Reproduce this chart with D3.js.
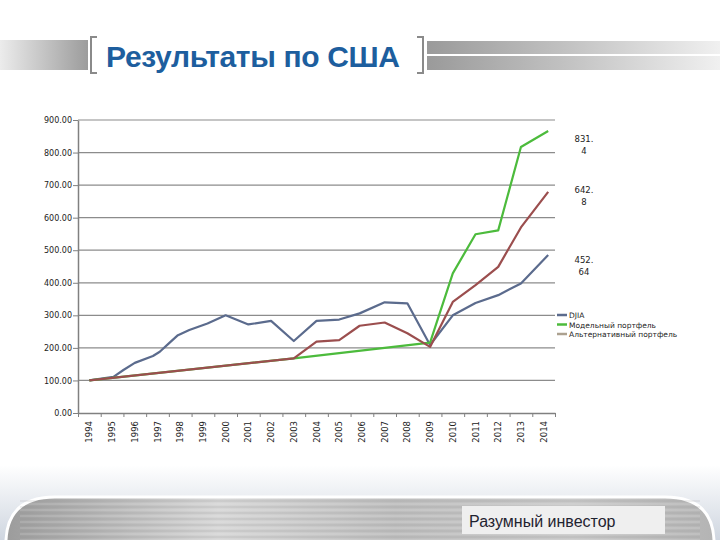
<!DOCTYPE html>
<html><head><meta charset="utf-8">
<script src="https://cdn.jsdelivr.net/npm/d3@7"></script>
<style>html,body{margin:0;padding:0;background:#fff;}svg{display:block;}</style>
</head><body>
<script>
// ---- data ----
const categories = [1994,1995,1996,1997,1998,1999,2000,2001,2002,2003,2004,2005,2006,2007,2008,2009,2010,2011,2012,2013,2014];
const yTicks = [0,100,200,300,400,500,600,700,800,900];
const djiaT = [1994,1995.06,1995.5,1996,1996.8,1997.1,1997.5,1997.9,1998.4,1999.2,2000,2001,2002,2003,2004,2005,2005.9,2007,2008,2009,2010,2011,2012,2013,2014.2];
const djiaV = [100,111,132,154,175,188,214,239,255,275,300,272,283,221,283,287,306,340,337,209,300,338,362,398,485];
const modelT = [1994,2003,2009,2010,2011,2012,2013,2014.2];
const modelV = [100,168,216,429,549,561,817,866];
const altT = [1994,2003,2004,2005,2005.9,2007,2008,2009,2010,2011,2012,2013,2014.2];
const altV = [100,168,219,224,268,278,245,203,341,393,449,570,679];
const seriesNames = ["DJIA","Модельный портфель","Альтернативный портфель"];
const endLabels = [["831.","4"],["642.","8"],["452.","64"]];
const endValues = [866,679,485];
const titleText = "Результаты по США";
const footerText = "Разумный инвестор";

// layout-only offsets for the end labels (pixels below the line end)
const endLabelDy = [11, 1.5, 8];

const W=720,H=540;
const svg=d3.select("body").append("svg").attr("width",W).attr("height",H);
const defs=svg.append("defs");
function lg(id,stops,vertical){const g=defs.append("linearGradient").attr("id",id).attr("x1",0).attr("y1",0).attr("x2",vertical?0:1).attr("y2",vertical?1:0);stops.forEach(s=>g.append("stop").attr("offset",s[0]).attr("stop-color",s[1]));}
lg("gl",[[0,"#ececec"],[1,"#9c9c9c"]]);
lg("gr",[[0,"#9a9a9a"],[0.5,"#c4c4c4"],[1,"#f0f0f0"]]);
lg("shadow",[[0,"#ffffff"],[1,"#cfd6e0"]],true);
lg("metal",[[0,"#9c9c9c"],[0.3,"#d6d6d6"],[0.55,"#bdbdbd"],[0.8,"#c9c9c9"],[1,"#b4b4b4"]]);

// ---- header ----
svg.append("rect").attr("x",0).attr("y",40).attr("width",88).attr("height",30).attr("fill","url(#gl)");
svg.append("rect").attr("x",427).attr("y",41).attr("width",293).attr("height",13).attr("fill","url(#gr)");
svg.append("rect").attr("x",427).attr("y",56).attr("width",293).attr("height",14).attr("fill","url(#gr)");
svg.append("path").attr("d","M97,37 L91,37 L91,73 L97,73").attr("fill","none").attr("stroke","#8a8a8a").attr("stroke-width",2);
svg.append("path").attr("d","M417,37 L423,37 L423,73 L417,73").attr("fill","none").attr("stroke","#8a8a8a").attr("stroke-width",2);
svg.append("text").attr("x",106).attr("y",67).attr("font-family","Liberation Sans, Arial, sans-serif").attr("font-weight","bold").attr("font-size",30).attr("textLength",294).attr("fill","#1d5e9e").text(titleText);

// ---- footer ----
svg.append("rect").attr("x",0).attr("y",465).attr("width",W).attr("height",75).attr("fill","url(#shadow)");
svg.append("path").attr("d","M6,545 L6,540 Q8,497 55,497 L665,497 Q712,497 714,540 L714,545 Z").attr("fill","url(#metal)").attr("stroke","#ffffff").attr("stroke-width",3);
const stripes=svg.append("g").attr("opacity",0.25);
for(let i=0;i<14;i++){stripes.append("line").attr("x1",20).attr("x2",700).attr("y1",501+i*3).attr("y2",501+i*3).attr("stroke",i%2?"#ffffff":"#8a8a8a").attr("stroke-width",1);}
svg.append("rect").attr("x",462).attr("y",506).attr("width",203).attr("height",28).attr("fill","#efefef");
svg.append("text").attr("x",469).attr("y",527).attr("font-family","Liberation Sans, Arial, sans-serif").attr("font-size",16).attr("fill","#1f2330").text(footerText);

// ---- chart ----
const x=d3.scaleLinear().domain([1993.5,2014.5]).range([78,555]);
const y=d3.scaleLinear().domain([0,900]).range([413,120]);
const g=svg.append("g");
g.selectAll("line.grid").data(yTicks.filter(d=>d>0)).enter().append("line")
 .attr("x1",78).attr("x2",555).attr("y1",d=>y(d)).attr("y2",d=>y(d)).attr("stroke","#8c8c8c").attr("stroke-width",1.2);
const yAxis=d3.axisLeft(y).tickValues(yTicks).tickFormat(d3.format(".2f")).tickSize(5).tickSizeOuter(0);
const ya=g.append("g").attr("transform","translate(78,0)").call(yAxis);
ya.select(".domain").attr("stroke","#808080").attr("stroke-width",1.5);
ya.selectAll(".tick line").attr("stroke","#808080");
ya.selectAll("text").attr("font-family","DejaVu Sans, sans-serif").attr("font-size",8).attr("fill","#222").attr("x",-6);
const bounds=d3.range(1993.5,2015,1);
const xAxis=d3.axisBottom(x).tickValues(bounds).tickFormat("").tickSize(4).tickSizeOuter(0);
const xa=g.append("g").attr("transform","translate(0,413)").call(xAxis);
xa.select(".domain").attr("stroke","#808080").attr("stroke-width",1.5);
xa.selectAll(".tick line").attr("stroke","#808080");
g.selectAll("text.xl").data(categories).enter().append("text")
 .attr("transform",d=>`translate(${x(d)+3},421) rotate(-90)`).attr("text-anchor","end")
 .attr("font-family","DejaVu Sans, sans-serif").attr("font-size",8.5).attr("fill","#222").text(d=>d);

const line=d3.line().x(d=>x(d[0])).y(d=>y(d[1]));
const colors=["#5b6b8d","#4cbb3c","#9b4e4e"];
const legendColors=["#5b6b8d","#4cbb3c","#aca190"];
const djia=djiaT.map((t,i)=>[t,djiaV[i]]);
const model=modelT.map((t,i)=>[t,modelV[i]]);
const alt=altT.map((t,i)=>[t,altV[i]]);
[[djia,0],[model,1],[alt,2]].forEach(([d,i])=>{
 g.append("path").datum(d).attr("d",line).attr("fill","none").attr("stroke",colors[i]).attr("stroke-width",2.2).attr("stroke-linejoin","round");
});
// end labels
endLabels.forEach((l,k)=>{
 const v=endValues[k];
 const t=g.append("text").attr("font-family","DejaVu Sans, sans-serif").attr("font-size",8.5).attr("fill","#222").attr("text-anchor","middle");
 t.append("tspan").attr("x",584).attr("y",y(v)+endLabelDy[k]).text(l[0]);
 t.append("tspan").attr("x",584).attr("dy",11.5).text(l[1]);
});
// legend
seriesNames.forEach((n,i)=>{
 const yy=315+i*9.5;
 g.append("line").attr("x1",557).attr("x2",567).attr("y1",yy).attr("y2",yy).attr("stroke",legendColors[i]).attr("stroke-width",2.5);
 g.append("text").attr("x",569).attr("y",yy+3).attr("font-family","DejaVu Sans, sans-serif").attr("font-size",7.5).attr("fill","#222").text(n);
});
</script>
</body></html>
